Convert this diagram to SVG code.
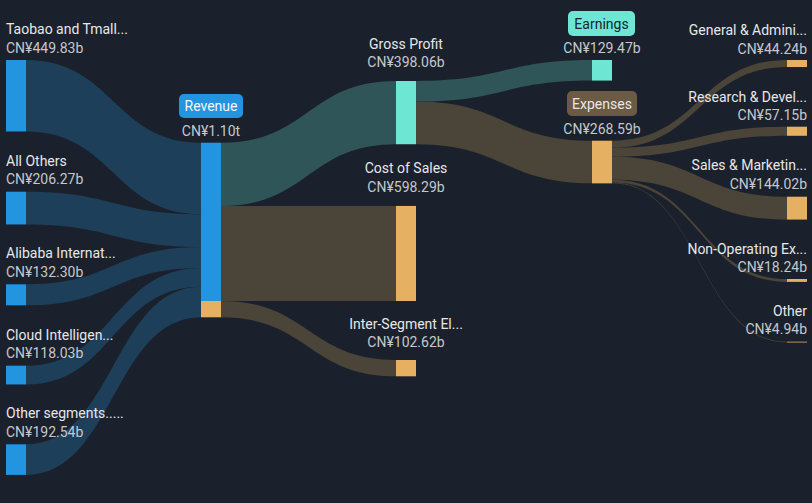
<svg xmlns="http://www.w3.org/2000/svg" width="812" height="503" viewBox="0 0 812 503">
<style>
.t{font-family:Roboto,"Liberation Sans",sans-serif;font-size:14px;fill:#e6e7ea}
.v{font-family:Roboto,"Liberation Sans",sans-serif;font-size:14px;fill:#c5c7cb}
.m{text-anchor:middle}
.e{text-anchor:end}
.fb{fill:#1e3f5a}
.fg{fill:#2f5558}
.fr{fill:#4a4439}
.nb{fill:#2394df}
.ng{fill:#6de6d3}
.no{fill:#e5b062}
</style>
<rect width="812" height="503" fill="#1b212c"/>
<g id="links">
<path class="fb" d="M26 60 C113.5 60 113.5 142.7 201 142.7 L201 214.17 C113.5 214.17 113.5 131.47 26 131.47 Z"/>
<path class="fb" d="M26 191.7 C113.5 191.7 113.5 214.17 201 214.17 L201 246.94 C113.5 246.94 113.5 224.47 26 224.47 Z"/>
<path class="fb" d="M26 284.3 C113.5 284.3 113.5 246.94 201 246.94 L201 267.96 C113.5 267.96 113.5 305.32 26 305.32 Z"/>
<path class="fb" d="M26 365.7 C113.5 365.7 113.5 267.96 201 267.96 L201 286.71 C113.5 286.71 113.5 384.45 26 384.45 Z"/>
<path class="fb" d="M26 444.3 C113.5 444.3 113.5 286.71 201 286.71 L201 317.3 C113.5 317.3 113.5 474.89 26 474.89 Z"/>
<path class="fg" d="M221 142.7 C308.5 142.7 308.5 81 396 81 L396 144.24 C308.5 144.24 308.5 205.94 221 205.94 Z"/>
<path class="fr" d="M221 205.94 L396 205.94 L396 301 L221 301 Z"/>
<path class="fr" d="M221 301 C308.5 301 308.5 360 396 360 L396 376.3 C308.5 376.3 308.5 317.3 221 317.3 Z"/>
<path class="fg" d="M416 81 C504 81 504 60 592 60 L592 80.57 C504 80.57 504 101.57 416 101.57 Z"/>
<path class="fr" d="M416 101.57 C504 101.57 504 140.7 592 140.7 L592 183.37 C504 183.37 504 144.24 416 144.24 Z"/>
<path class="fr" d="M612 140.7 C699.5 140.7 699.5 60 787 60 L787 67.03 C699.5 67.03 699.5 147.73 612 147.73 Z"/>
<path class="fr" d="M612 147.73 C699.5 147.73 699.5 126.7 787 126.7 L787 135.78 C699.5 135.78 699.5 156.81 612 156.81 Z"/>
<path class="fr" d="M612 156.81 C699.5 156.81 699.5 196.7 787 196.7 L787 219.58 C699.5 219.58 699.5 179.69 612 179.69 Z"/>
<path class="fr" d="M612 179.69 C699.5 179.69 699.5 279 787 279 L787 281.9 C699.5 281.9 699.5 182.59 612 182.59 Z"/>
<path class="fr" d="M612 182.59 C699.5 182.59 699.5 341.7 787 341.7 L787 342.48 C699.5 342.48 699.5 183.37 612 183.37 Z"/>
</g>
<g id="taobao"><rect class="nb" x="6" y="60" width="20" height="71.47"/><text class="t" x="6" y="34">Taobao and Tmall...</text><text class="v" x="6" y="52.5">CN¥449.83b</text></g>
<g id="allothers"><rect class="nb" x="6" y="191.7" width="20" height="32.77"/><text class="t" x="6" y="165.7">All Others</text><text class="v" x="6" y="184.2">CN¥206.27b</text></g>
<g id="alibaba"><rect class="nb" x="6" y="284.3" width="20" height="21.02"/><text class="t" x="6" y="258.3">Alibaba Internat...</text><text class="v" x="6" y="276.8">CN¥132.30b</text></g>
<g id="cloud"><rect class="nb" x="6" y="365.7" width="20" height="18.75"/><text class="t" x="6" y="339.7">Cloud Intelligen...</text><text class="v" x="6" y="358.2">CN¥118.03b</text></g>
<g id="otherseg"><rect class="nb" x="6" y="444.3" width="20" height="30.59"/><text class="t" x="6" y="418.3">Other segments.....</text><text class="v" x="6" y="436.8">CN¥192.54b</text></g>
<g id="revenue"><rect class="nb" x="201" y="142.7" width="20" height="158.3"/><rect class="no" x="201" y="301" width="20" height="16.3"/><rect x="179" y="94" width="64" height="24" rx="5" fill="#2394df"/><text class="t m" x="211" y="111" style="fill:#f2f6fa">Revenue</text><text class="v m" x="211" y="135.7">CN¥1.10t</text></g>
<g id="grossprofit"><rect class="ng" x="396" y="81" width="20" height="63.24"/><text class="t m" x="406" y="48.5">Gross Profit</text><text class="v m" x="406" y="67">CN¥398.06b</text></g>
<g id="costofsales"><rect class="no" x="396" y="205.94" width="20" height="95.06"/><text class="t m" x="406" y="173">Cost of Sales</text><text class="v m" x="406" y="191.5">CN¥598.29b</text></g>
<g id="interseg"><rect class="no" x="396" y="360" width="20" height="16.3"/><text class="t m" x="406" y="328.5">Inter-Segment El...</text><text class="v m" x="406" y="347">CN¥102.62b</text></g>
<g id="earnings"><rect class="ng" x="592" y="60" width="20" height="20.57"/><rect x="568" y="11" width="67" height="25" rx="5" fill="#6de6d3"/><text class="t m" x="601.5" y="28.5" style="fill:#1b222d">Earnings</text><text class="v m" x="602" y="53">CN¥129.47b</text></g>
<g id="expenses"><rect class="no" x="592" y="140.7" width="20" height="42.67"/><rect x="567" y="91" width="70" height="25" rx="5" fill="#6b5a44"/><text class="t m" x="602" y="108.5">Expenses</text><text class="v m" x="602" y="133.5">CN¥268.59b</text></g>
<g id="ga"><rect class="no" x="787" y="60" width="20" height="7.03"/><text class="t e" x="807" y="35">General &amp; Admini...</text><text class="v e" x="807" y="53.5">CN¥44.24b</text></g>
<g id="rd"><rect class="no" x="787" y="126.7" width="20" height="9.08"/><text class="t e" x="807" y="101.5">Research &amp; Devel...</text><text class="v e" x="807" y="120">CN¥57.15b</text></g>
<g id="sm"><rect class="no" x="787" y="196.7" width="20" height="22.88"/><text class="t e" x="807" y="170">Sales &amp; Marketin...</text><text class="v e" x="807" y="188.5">CN¥144.02b</text></g>
<g id="nonop"><rect class="no" x="787" y="279" width="20" height="2.9"/><text class="t e" x="807" y="254">Non-Operating Ex...</text><text class="v e" x="807" y="272">CN¥18.24b</text></g>
<g id="other"><rect class="no" x="787" y="341.7" width="20" height="0.78"/><text class="t e" x="807" y="316">Other</text><text class="v e" x="807" y="334">CN¥4.94b</text></g>
</svg>
